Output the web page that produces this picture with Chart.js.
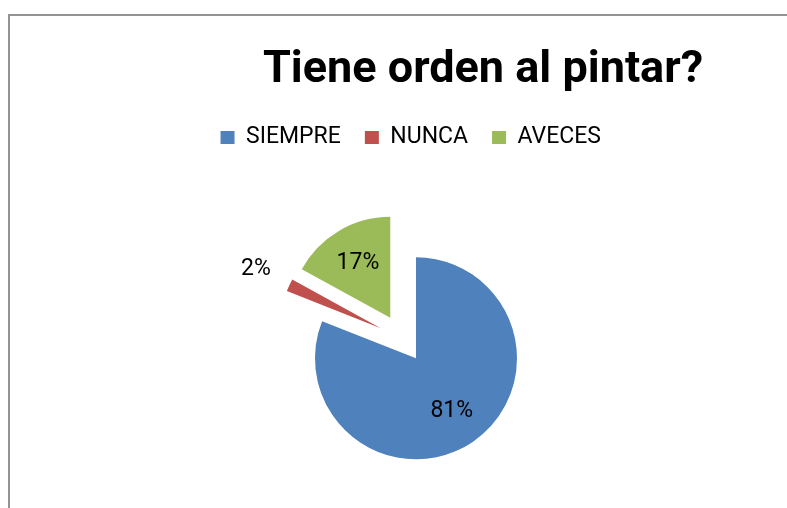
<!DOCTYPE html>
<html>
<head>
<meta charset="utf-8">
<script src="https://cdn.jsdelivr.net/npm/chart.js@4"></script>
<style>
html, body { margin: 0; padding: 0; background: #ffffff; overflow: hidden; width: 787px; height: 508px; }
#frame { position: absolute; left: 8px; top: 14px; width: 900px; height: 600px; border-top: 2px solid #939393; border-left: 2px solid #939393; box-sizing: border-box; }
#c { position: absolute; left: 0; top: 0; }
</style>
</head>
<body>
<div id="frame"></div>
<canvas id="c" width="787" height="530"></canvas>
<script>
// ---- data ----
const chartTitle = 'Tiene orden al pintar?';
const categories = ['SIEMPRE', 'NUNCA', 'AVECES'];
const percentages = [81, 2, 17];
const sliceColors = ['#4F81BD', '#C0504D', '#9BBB59'];

// ---- style constants ----
const EXPLODE = 24;
const FONT = 'Roboto, "Liberation Sans", sans-serif';

// draws each arc (library ArcElement) shifted outward along its mid angle
const explodePlugin = {
  id: 'explode',
  beforeDatasetDraw(chart, args) {
    const ctx = chart.ctx;
    args.meta.data.forEach(arc => {
      const mid = (arc.startAngle + arc.endAngle) / 2;
      ctx.save();
      ctx.translate(Math.cos(mid) * EXPLODE, Math.sin(mid) * EXPLODE);
      arc.draw(ctx);
      ctx.restore();
    });
    return false;
  }
};

// percentage labels
const labelPlugin = {
  id: 'pctLabels',
  afterDatasetsDraw(chart) {
    const ctx = chart.ctx;
    const meta = chart.getDatasetMeta(0);
    const values = chart.data.datasets[0].data;
    const total = values.reduce((a, b) => a + b, 0);
    ctx.save();
    ctx.font = '23px ' + FONT;
    ctx.fillStyle = '#000000';
    ctx.textAlign = 'center';
    ctx.textBaseline = 'middle';
    meta.data.forEach((arc, i) => {
      const mid = (arc.startAngle + arc.endAngle) / 2;
      const frac = values[i] / total;
      const dist = frac < 0.05 ? EXPLODE + arc.outerRadius + 37 : EXPLODE + arc.outerRadius * 0.63;
      const x = arc.x + Math.cos(mid) * dist;
      const y = arc.y + Math.sin(mid) * dist;
      ctx.fillText(Math.round(frac * 100) + '%', x, y);
    });
    ctx.restore();
  }
};

// chart title (placed off-centre like the original)
const titlePlugin = {
  id: 'offTitle',
  afterDraw(chart) {
    const ctx = chart.ctx;
    ctx.save();
    ctx.font = 'bold 45px ' + FONT;
    ctx.fillStyle = '#000000';
    ctx.textAlign = 'center';
    ctx.textBaseline = 'alphabetic';
    ctx.fillText(chartTitle, 483, 82);
    ctx.restore();
  }
};

new Chart(document.getElementById('c'), {
  type: 'pie',
  data: {
    labels: categories,
    datasets: [{
      data: percentages,
      backgroundColor: sliceColors,
      borderWidth: 0,
      offset: 0,
      hoverOffset: 0
    }]
  },
  options: {
    responsive: false,
    animation: false,
    devicePixelRatio: 1,
    events: [],
    radius: 101,
    layout: { padding: { left: 180, right: 162, top: 102, bottom: 12 } },
    plugins: {
      title: { display: false },
      tooltip: { enabled: false },
      legend: {
        position: 'top',
        align: 'end',
        labels: {
          boxWidth: 14,
          boxHeight: 13,
          padding: 24,
          color: '#000000',
          font: { family: FONT, size: 23 }
        }
      }
    }
  },
  plugins: [explodePlugin, labelPlugin, titlePlugin]
});
</script>
</body>
</html>
